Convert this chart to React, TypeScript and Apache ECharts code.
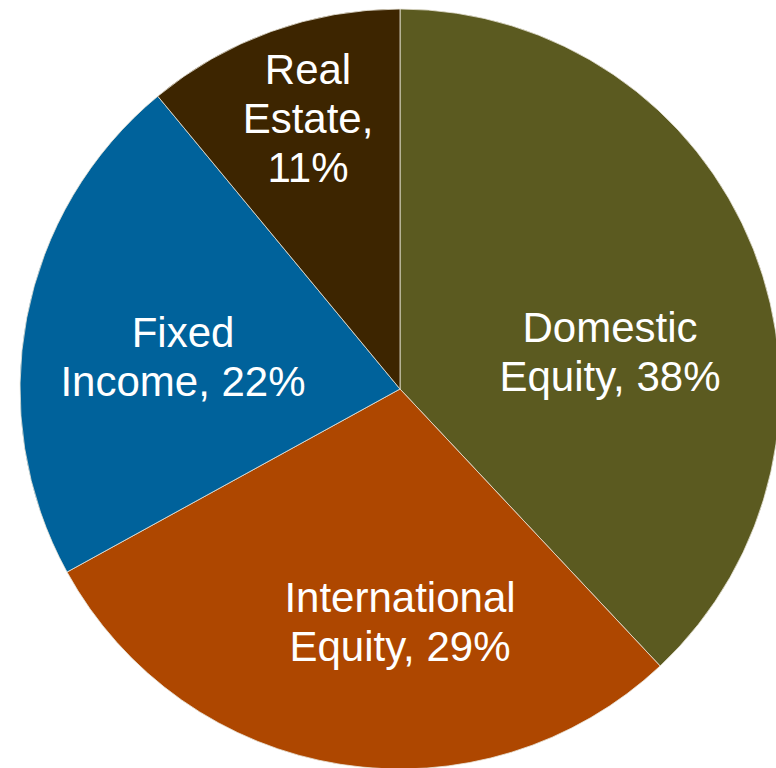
import React, { useEffect, useRef } from "react";
import * as echarts from "echarts";

// Asset allocation (percent of portfolio), clockwise from 12 o'clock
const categories = ["Domestic Equity", "International Equity", "Fixed Income", "Real Estate"];
const shares = [38, 29, 22, 11];
const colors = ["#5b5a20", "#ae4700", "#00629b", "#3d2500"];
// Real Estate is a narrow slice, its percent goes on a third line
const percentOnOwnLine = [false, false, false, true];

// where the labels sit (px, in the 776x768 chart)
const labelSpots: [number, number][] = [
  [610, 352],
  [400, 622],
  [183, 357],
  [308, 118],
];

const App: React.FC = () => {
  const chartRef = useRef<HTMLDivElement>(null);

  useEffect(() => {
    const chartDom = chartRef.current;
    if (!chartDom) return;

    const myChart = echarts.init(chartDom, undefined, { renderer: "svg" });

    const pieData = categories.map((name, i) => ({
      name,
      value: shares[i],
      itemStyle: { color: colors[i] },
    }));

    const option: echarts.EChartsOption = {
      animation: false,
      series: [
        {
          type: "pie",
          center: [400, 389],
          radius: 380,
          startAngle: 90,
          clockwise: true,
          avoidLabelOverlap: false,
          silent: true,
          itemStyle: {
            borderColor: "#e8e4d8",
            borderWidth: 0.8,
          },
          label: {
            show: true,
            position: "inside",
            color: "#ffffff",
            fontFamily: "Liberation Sans, Arial, sans-serif",
            fontSize: 42,
            lineHeight: 49,
            align: "center",
            verticalAlign: "middle",
            formatter: (params: any) => {
              const i = params.dataIndex;
              const words = categories[i].split(" ");
              const first = words[0];
              const rest = words.slice(1).join(" ");
              const sep = percentOnOwnLine[i] ? ",\n" : ", ";
              return `${first}\n${rest}${sep}${params.value}%`;
            },
          },
          labelLine: { show: false },
          labelLayout: (params: any) => {
            const spot = labelSpots[params.dataIndex];
            return { x: spot[0], y: spot[1], align: "center", verticalAlign: "middle" };
          },
          data: pieData,
        },
      ],
    };

    myChart.setOption(option);

    const handleResize = (): void => {
      myChart.resize();
    };
    window.addEventListener("resize", handleResize);

    return () => {
      window.removeEventListener("resize", handleResize);
      myChart.dispose();
    };
  }, []);

  return (
    <div
      ref={chartRef}
      style={{
        position: "absolute",
        left: 0,
        top: 0,
        width: "776px",
        height: "768px",
        background: "#ffffff",
      }}
    />
  );
};

export default App;
